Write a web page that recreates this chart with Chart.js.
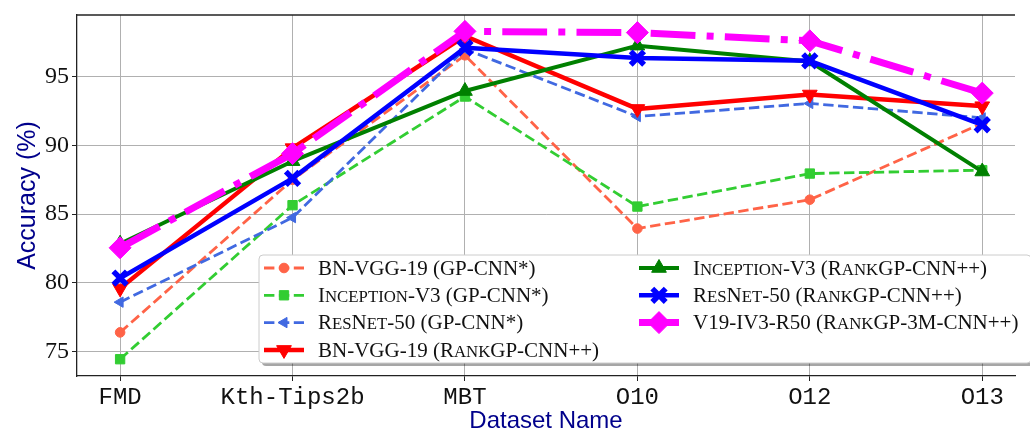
<!DOCTYPE html>
<html><head><meta charset="utf-8">
<script src="https://cdn.jsdelivr.net/npm/chart.js@4/dist/chart.umd.min.js"></script>
<style>html,body{margin:0;padding:0;background:#fff;overflow:hidden}#wrap{width:1030px;height:434px;position:relative}</style>
</head><body><div id="wrap"><canvas id="c" width="1030" height="434"></canvas></div>
<script>
// ---- data ----
const categories = ['FMD', 'Kth-Tips2b', 'MBT', 'O10', 'O12', 'O13'];
const yTickValues = [75, 80, 85, 90, 95];
const vgg19GP       = [76.4, 87.5, 96.55, 83.95, 86.05, 91.6];
const inceptionGP   = [74.45, 85.65, 93.55, 85.55, 87.95, 88.2];
const resnetGP      = [78.6, 84.75, 97.0, 92.1, 93.05, 92.0];
const vgg19Rank     = [79.6, 89.8, 97.95, 92.65, 93.7, 92.85];
const inceptionRank = [82.85, 88.85, 93.95, 97.25, 96.1, 88.1];
const resnetRank    = [80.35, 87.6, 97.1, 96.35, 96.15, 91.5];
const ensemble3M    = [82.55, 89.4, 98.29, 98.2, 97.6, 93.8];
const seriesLabels = [
  'BN-VGG-19 (GP-CNN*)',
  'Inception-V3 (GP-CNN*)',
  'ResNet-50 (GP-CNN*)',
  'BN-VGG-19 (RankGP-CNN++)',
  'Inception-V3 (RankGP-CNN++)',
  'ResNet-50 (RankGP-CNN++)',
  'V19-IV3-R50 (RankGP-3M-CNN++)'
];

const seriesValues = [vgg19GP, inceptionGP, resnetGP, vgg19Rank, inceptionRank, resnetRank, ensemble3M];
const styles = [
  {color:'#ff6347', width:2.8, dash:[10.4,4.5], style:'circle', r:4.8, rot:0},
  {color:'#32cd32', width:2.8, dash:[10.4,4.5], style:'rect', r:6.6, rot:0},
  {color:'#4169e1', width:2.8, dash:[10.4,4.5], style:'triangle', r:6, rot:270},
  {color:'#ff0000', width:4.5, dash:[], style:'triangle', r:8.5, rot:180},
  {color:'#008000', width:4.0, dash:[], style:'triangle', r:8.5, rot:0},
  {color:'#0000ff', width:4.5, dash:[], style:'crossRot', r:9.5, rot:0, bw:5.5},
  {color:'#ff00ff', width:7, dash:[44.8,11.2,7,11.2], style:'rectRot', r:11, rot:0}
];

const datasets = seriesValues.map((vals, i) => {
  const s = styles[i];
  return {
    label: seriesLabels[i],
    data: vals.map((v, k) => ({x: k, y: v})),
    borderColor: s.color,
    backgroundColor: s.color,
    borderWidth: s.width,
    borderDash: s.dash,
    borderJoinStyle: 'round',
    borderCapStyle: s.dash.length ? 'butt' : 'square',
    pointStyle: s.style,
    pointRadius: s.r,
    pointRotation: s.rot,
    pointBackgroundColor: s.color,
    pointBorderColor: s.color,
    pointBorderWidth: s.bw || 1,
    tension: 0,
    fill: false,
    order: 6 - i
  };
});

function rrect(ctx, x, y, w, h, r) {
  ctx.beginPath();
  ctx.moveTo(x + r, y);
  ctx.lineTo(x + w - r, y); ctx.arcTo(x + w, y, x + w, y + r, r);
  ctx.lineTo(x + w, y + h - r); ctx.arcTo(x + w, y + h, x + w - r, y + h, r);
  ctx.lineTo(x + r, y + h); ctx.arcTo(x, y + h, x, y + h - r, r);
  ctx.lineTo(x, y + r); ctx.arcTo(x, y, x + r, y, r);
  ctx.closePath();
}

const SC_WORDS = /^(Inception|ResNet|Rank)$/;
function drawRich(ctx, text, x, y, size, family) {
  let cx = x;
  for (const p of text.split(/(Inception|ResNet|Rank)/)) {
    if (!p) continue;
    if (SC_WORDS.test(p)) {
      for (const ch of p) {
        const up = ch === ch.toUpperCase();
        ctx.font = (up ? size : size * 0.8) + 'px ' + family;
        const c = ch.toUpperCase();
        ctx.fillText(c, cx, y);
        cx += ctx.measureText(c).width;
      }
    } else {
      ctx.font = size + 'px ' + family;
      ctx.fillText(p, cx, y);
      cx += ctx.measureText(p).width;
    }
  }
}

const framePlugin = {
  id: 'frame',
  beforeDatasetsDraw(chart) {
    const {ctx, chartArea: a} = chart;
    ctx.save();
    ctx.strokeStyle = '#222';
    ctx.lineWidth = 1.3;
    ctx.beginPath();
    ctx.moveTo(a.left, a.top); ctx.lineTo(a.right, a.top);
    ctx.stroke();
    ctx.restore();
  }
};

const legendPlugin = {
  id: 'mplLegend',
  afterDatasetsDraw(chart) {
    const ctx = chart.ctx;
    const bx = 259, by = 255, bw = 772, bh = 108;
    ctx.save();
    ctx.fillStyle = 'rgba(0,0,0,0.35)';
    rrect(ctx, bx + 3, by + 3, bw, bh, 4); ctx.fill();
    ctx.fillStyle = '#ffffff';
    rrect(ctx, bx, by, bw, bh, 4); ctx.fill();
    ctx.strokeStyle = '#cccccc'; ctx.lineWidth = 1; ctx.stroke();
    chart.data.datasets.forEach((ds, i) => {
      const col = i < 4 ? 0 : 1;
      const row = i < 4 ? i : i - 4;
      const hx = bx + (col ? 380 : 5);
      const cy = by + 13 + row * 27.3;
      const s = styles[i];
      ctx.save();
      ctx.strokeStyle = s.color;
      ctx.lineWidth = s.width;
      ctx.setLineDash(s.dash.length ? s.dash : []);
      ctx.lineCap = 'butt';
      ctx.beginPath(); ctx.moveTo(hx, cy); ctx.lineTo(hx + 40, cy); ctx.stroke();
      ctx.setLineDash([]);
      ctx.fillStyle = s.color;
      ctx.strokeStyle = s.color;
      ctx.lineWidth = s.bw || 1;
      Chart.helpers.drawPoint(ctx, {pointStyle: s.style, radius: s.r, rotation: s.rot, borderWidth: s.bw || 1}, hx + 20, cy);
      ctx.restore();
      ctx.fillStyle = '#111';
      ctx.textBaseline = 'alphabetic';
      ctx.textAlign = 'left';
      drawRich(ctx, ds.label, hx + 54, cy + 6.8, 21, '"Liberation Serif", serif');
    });
    ctx.restore();
  }
};

new Chart(document.getElementById('c'), {
  type: 'line',
  data: {datasets},
  plugins: [framePlugin, legendPlugin],
  options: {
    responsive: false,
    animation: false,
    devicePixelRatio: 1,
    layout: {padding: {top: 12, left: 0, right: 0, bottom: 0}},
    plugins: {legend: {display: false}, tooltip: {enabled: false}},
    scales: {
      x: {
        type: 'linear',
        min: -0.25, max: 5.19,
        afterBuildTicks: s => { s.ticks = categories.map((c, i) => ({value: i})); },
        afterFit: s => { s.height = 58; s.paddingLeft = 0; s.paddingRight = 0; },
        ticks: {
          callback: v => categories[v],
          font: {family: '"Liberation Mono", monospace', size: 24},
          color: '#111', padding: 2, maxRotation: 0, autoSkip: false
        },
        grid: {color: '#b0b0b0', lineWidth: 1, tickLength: 5, tickColor: '#222', drawTicks: true},
        border: {color: '#222', width: 1.3},
        title: {display: true, text: 'Dataset Name', color: '#00008b',
          font: {family: '"Liberation Sans", sans-serif', size: 24}, padding: {top: 0, bottom: -2}}
      },
      y: {
        type: 'linear',
        min: 73.23, max: 99.48,
        afterBuildTicks: s => { s.ticks = yTickValues.map(v => ({value: v})); },
        afterFit: s => { s.width = 77; s.paddingTop = 0; s.paddingBottom = 0; },
        ticks: {
          callback: v => String(v),
          font: {family: '"Liberation Serif", serif', size: 24},
          color: '#111', padding: 3
        },
        grid: {color: '#b0b0b0', lineWidth: 1, tickLength: 5, tickColor: '#222'},
        border: {color: '#222', width: 1.3},
        title: {display: true, text: 'Accuracy (%)', color: '#00008b',
          font: {family: '"Liberation Sans", sans-serif', size: 25}, padding: {top: 13, bottom: 0}}
      }
    }
  }
});
</script>
</body></html>
